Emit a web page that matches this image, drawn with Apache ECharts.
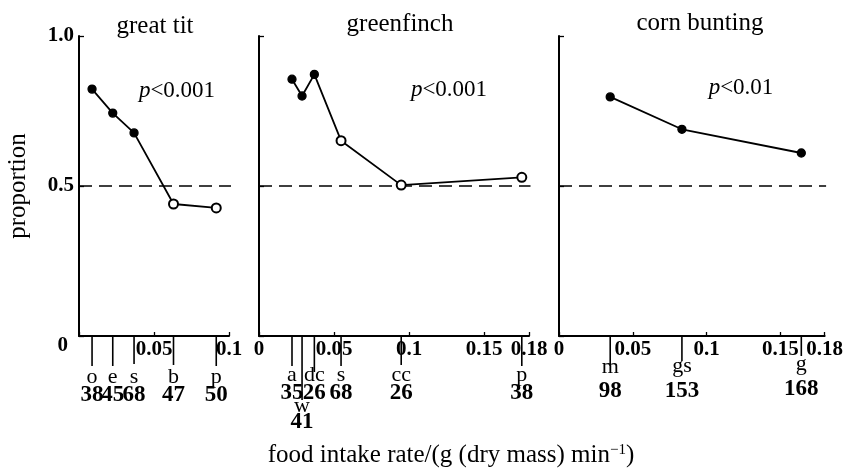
<!DOCTYPE html>
<html>
<head>
<meta charset="utf-8">
<script src="https://cdn.jsdelivr.net/npm/echarts@6/dist/echarts.min.js"></script>
<style>html,body{margin:0;padding:0;background:#fff}#c{width:846px;height:470px}</style>
</head>
<body>
<div id="c"></div>
<script>
// ---------- data ----------
const panelTitles = ['great tit', 'greenfinch', 'corn bunting'];
const pValues = ['<0.001', '<0.001', '<0.01'];

const greatTitX = [0.0087, 0.0225, 0.0367, 0.063, 0.0915];
const greatTitY = [0.823, 0.743, 0.677, 0.44, 0.427];
const greatTitFilled = [true, true, true, false, false];
const greatTitCodes = ['o', 'e', 's', 'b', 'p'];
const greatTitN = [38, 45, 68, 47, 50];

const greenfinchX = [0.022, 0.0287, 0.0369, 0.0547, 0.0948, 0.1752];
const greenfinchY = [0.856, 0.80, 0.872, 0.651, 0.503, 0.529];
const greenfinchFilled = [true, true, true, false, false, false];
const greenfinchCodes = ['a', 'w', 'dc', 's', 'cc', 'p'];
const greenfinchN = [35, 41, 26, 68, 26, 38];

const cornBuntingX = [0.0347, 0.0833, 0.1642];
const cornBuntingY = [0.797, 0.689, 0.61];
const cornBuntingFilled = [true, true, true];
const cornBuntingCodes = ['m', 'gs', 'g'];
const cornBuntingN = [98, 153, 168];

const xMaxima = [0.1, 0.18, 0.18];
const chanceLevel = 0.5;
const chanceLineEnds = [0.12, 0.181, 0.181];

// ---------- layout / style (not data) ----------
const SERIF = '"Liberation Serif", "DejaVu Serif", serif';
const grids = [
  {left: 79, top: 36, width: 150, height: 300},
  {left: 259, top: 36, width: 270, height: 300},
  {left: 559, top: 36, width: 270, height: 300}
];
// tick-line length, letter offset, number offset (px below axis) per point
const tickLayout = [
  [[30, 41, 59], [30, 41, 59], [28, 41, 59], [29, 41, 59], [30, 41, 59]],
  [[30, 39, 57], [64, 70, 86], [36, 39, 57], [30, 39, 57], [29, 39, 57], [30, 39, 57]],
  [[30, 31, 55], [25, 30, 55], [20, 28, 53]]
];
const titlePos = [[155, 26], [400, 24], [700, 23]];
const pPos = [[177, 91], [449, 90], [741, 88]];

const panels = [
  {x: greatTitX, y: greatTitY, f: greatTitFilled, c: greatTitCodes, n: greatTitN},
  {x: greenfinchX, y: greenfinchY, f: greenfinchFilled, c: greenfinchCodes, n: greenfinchN},
  {x: cornBuntingX, y: cornBuntingY, f: cornBuntingFilled, c: cornBuntingCodes, n: cornBuntingN}
];

const chart = echarts.init(document.getElementById('c'), null, {renderer: 'canvas'});

const xAxes = [], yAxes = [], series = [];
panels.forEach((p, i) => {
  xAxes.push({
    type: 'value', gridIndex: i, min: 0, max: xMaxima[i], interval: 0.05,
    axisLine: {show: true, onZero: false, lineStyle: {color: '#000', width: 2}},
    axisTick: {show: true, inside: true, length: 4, lineStyle: {color: '#000', width: 1.3}},
    splitLine: {show: false},
    axisLabel: {
      color: '#000', fontFamily: SERIF, fontWeight: 'bold', fontSize: 21, margin: 3,
      showMaxLabel: true,
      formatter: v => (v === 0 ? (i === 0 ? '' : '0') : String(+v.toFixed(2)))
    }
  });
  yAxes.push({
    type: 'value', gridIndex: i, min: 0, max: 1, interval: 0.5,
    axisLine: {show: true, onZero: false, lineStyle: {color: '#000', width: 2}},
    axisTick: {show: true, inside: true, length: 5, lineStyle: {color: '#000', width: 1.3}},
    splitLine: {show: false},
    name: i === 0 ? 'proportion' : '',
    nameLocation: 'middle', nameRotate: 90, nameGap: 48,
    nameTextStyle: {color: '#000', fontFamily: SERIF, fontSize: 25},
    axisLabel: {
      show: i === 0, color: '#000', fontFamily: SERIF, fontWeight: 'bold', fontSize: 21, margin: 5,
      formatter: v => (v === 0 ? '{z|0}' : v.toFixed(1)),
      rich: {z: {fontFamily: SERIF, fontWeight: 'bold', fontSize: 21, color: '#000', padding: [20, 6, 0, 0]}}
    }
  });
  // chance (0.5) dashed reference
  series.push({
    type: 'line', xAxisIndex: i, yAxisIndex: i, clip: false, silent: true,
    symbol: 'none', z: 1,
    lineStyle: {color: '#000', width: 1.4, type: [13, 7]},
    data: [[0, chanceLevel], [chanceLineEnds[i], chanceLevel]]
  });
  // data line
  series.push({
    type: 'line', xAxisIndex: i, yAxisIndex: i, clip: false, z: 3,
    lineStyle: {color: '#000', width: 1.8},
    itemStyle: {color: '#000', borderColor: '#000', borderWidth: 1.3},
    symbolSize: 8,
    data: p.x.map((x, k) => ({
      value: [x, p.y[k]],
      symbol: p.f[k] ? 'circle' : 'emptyCircle',
      symbolSize: p.f[k] ? 8 : 9
    }))
  });
  // food-type ticks below axis with code and sample size
  series.push({
    type: 'custom', xAxisIndex: i, yAxisIndex: i, clip: false, silent: true, z: 4,
    data: p.x.map(x => [x, 0]),
    renderItem: (params, api) => {
      const k = params.dataIndex;
      const pt = api.coord([api.value(0), 0]);
      const L = tickLayout[i][k];
      return {
        type: 'group',
        children: [
          {type: 'line', shape: {x1: pt[0], y1: pt[1], x2: pt[0], y2: pt[1] + L[0]},
           style: {stroke: '#000', lineWidth: 1.6}},
          {type: 'text', x: pt[0], y: pt[1] + L[1],
           style: {text: p.c[k], font: '22px ' + SERIF, fill: '#000', align: 'center', verticalAlign: 'middle'}},
          {type: 'text', x: pt[0], y: pt[1] + L[2],
           style: {text: String(p.n[k]), font: 'bold 23px ' + SERIF, fill: '#000', align: 'center', verticalAlign: 'middle'}}
        ]
      };
    }
  });
});

const graphics = [];
panelTitles.forEach((t, i) => {
  graphics.push({type: 'text', x: titlePos[i][0], y: titlePos[i][1],
    style: {text: t, font: '25px ' + SERIF, fill: '#000', align: 'center', verticalAlign: 'middle',
            textAlign: 'center', textVerticalAlign: 'middle'}});
  graphics.push({type: 'text', x: pPos[i][0], y: pPos[i][1],
    style: {text: '{i|p}{r|' + pValues[i] + '}', fill: '#000', align: 'center', verticalAlign: 'middle',
            textAlign: 'center', textVerticalAlign: 'middle', font: '23px ' + SERIF,
            rich: {i: {fontFamily: SERIF, fontSize: 23, fontStyle: 'italic', color: '#000'},
                   r: {fontFamily: SERIF, fontSize: 23, color: '#000'}}}});
});
graphics.push({type: 'text', x: 451, y: 455,
  style: {text: '{a|food intake rate/(g (dry mass) min}{s|\u22121}{a|)}', fill: '#000',
          align: 'center', verticalAlign: 'middle', textAlign: 'center', textVerticalAlign: 'middle',
          font: '25px ' + SERIF,
          rich: {a: {fontFamily: SERIF, fontSize: 25, color: '#000'},
                 s: {fontFamily: SERIF, fontSize: 15, color: '#000', verticalAlign: 'top'}}}});

chart.setOption({
  animation: false,
  backgroundColor: '#fff',
  grid: grids.map(g => Object.assign({containLabel: false}, g)),
  xAxis: xAxes,
  yAxis: yAxes,
  series: series,
  graphic: graphics
});
</script>
</body>
</html>
